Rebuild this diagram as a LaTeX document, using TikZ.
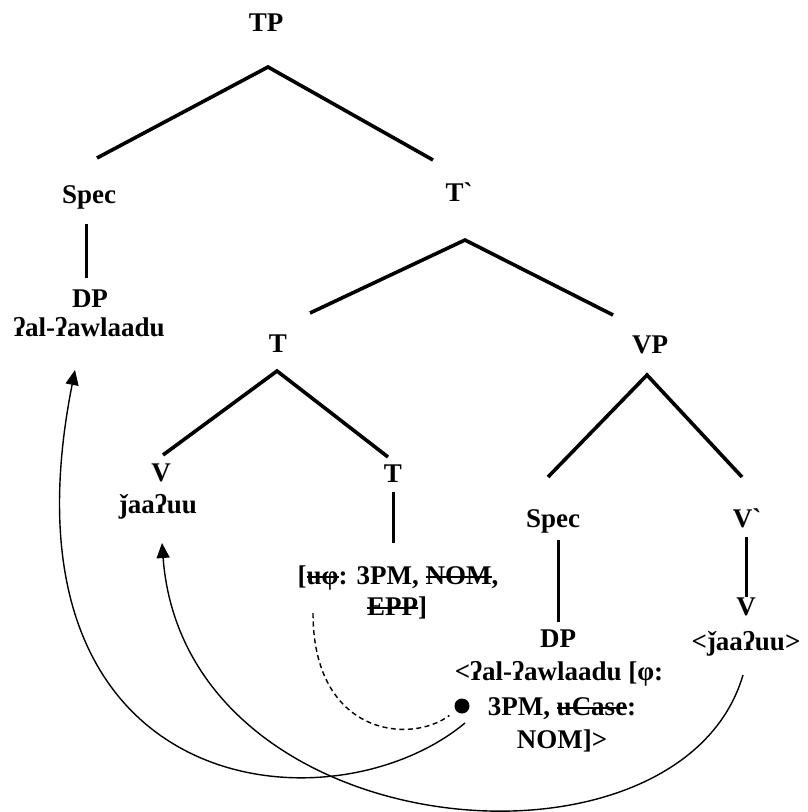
\documentclass[tikz,border=0pt]{standalone}
\usepackage{fontspec}
\setmainfont{Liberation Serif}
\usetikzlibrary{arrows.meta}

% struck-out (checked) feature
\newsavebox{\strikebox}
\newcommand{\struck}[1]{%
  \sbox{\strikebox}{#1}%
  \rlap{\raisebox{6.5pt}{\rule{\wd\strikebox}{1.1pt}}}\usebox{\strikebox}}

\begin{document}
\begin{tikzpicture}[
  x=1pt, y=-1pt,
  lbl/.style={inner sep=0pt, anchor=base,
              font=\bfseries\fontsize{27}{33}\selectfont},
  branch/.style={line width=3.6pt, line join=miter},
  unary/.style={line width=3pt},
  movearrow/.style={line width=1.4pt, -{Triangle[length=15pt,width=13pt]}},
  agree/.style={line width=1.4pt, dash pattern=on 5pt off 3.5pt},
]
\useasboundingbox (0,0) rectangle (807,812);

% ---- labels (positioned at their baselines) ----
\node[lbl] (TP)     at (266,31)  {TP};
\node[lbl] (specA)  at (89,203)  {Spec};
\node[lbl] (dpA)    at (90,307)  {DP};
\node[lbl] (dpAw)   at (89,336)  {ʔal-ʔawlaadu};
\node[lbl] (Tbar)   at (459,201) {T\textasciigrave};
\node[lbl] (T)      at (278,352) {T};
\node[lbl] (VP)     at (650,353) {VP};
\node[lbl] (vA)     at (161,481) {V};
\node[lbl] (vAw)    at (158,513) {ǰaaʔuu};
\node[lbl] (Tlow)   at (393,482) {T};
\node[lbl] (featA)  at (398,584) {[\struck{uφ}: 3PM, \struck{NOM},};
\node[lbl] (featB)  at (397,615) {\struck{EPP}]};
\node[lbl] (specB)  at (553,527) {Spec};
\node[lbl] (Vbar)   at (747,527) {V\textasciigrave};
\node[lbl] (dpB)    at (558,647) {DP};
\node[lbl] (dpBa)   at (559,680) {<ʔal-ʔawlaadu [φ:};
\node[lbl] (dpBb)   at (562,715) {3PM, \struck{uCase}:};
\node[lbl] (dpBc)   at (562,748) {NOM]>};
\node[lbl] (vB)     at (746,615) {V};
\node[lbl] (vBw)    at (746,650) {<ǰaaʔuu>};

% ---- branch points ----
\coordinate (tpA)  at (268,67);
\coordinate (tpL)  at (97,158);
\coordinate (tpR)  at (433,160);
\coordinate (tbA)  at (465,240);
\coordinate (tbL)  at (310,313);
\coordinate (tbR)  at (613,315);
\coordinate (tA)   at (277,371);
\coordinate (tL)   at (163,455);
\coordinate (tR)   at (388,457);
\coordinate (vpA)  at (647,375);
\coordinate (vpL)  at (548,477);
\coordinate (vpR)  at (742,477);

\draw[branch] (tpL) -- (tpA) -- (tpR);
\draw[branch] (tbL) -- (tbA) -- (tbR);
\draw[branch] (tL) -- (tA) -- (tR);
\draw[branch] (vpL) -- (vpA) -- (vpR);

% unary branches
\coordinate (specAd) at (86,224);  \coordinate (dpAu) at (86,278);
\coordinate (tlowD)  at (393,492); \coordinate (featU) at (393,543);
\coordinate (specBd) at (558,540); \coordinate (dpBu) at (558,622);
\coordinate (vbarD)  at (746,537); \coordinate (vBu)  at (746,597);
\draw[unary] (specAd) -- (dpAu);
\draw[unary] (tlowD) -- (featU);
\draw[unary] (specBd) -- (dpBu);
\draw[unary] (vbarD) -- (vBu);

% ---- agreement and movement ----
\node[circle, fill=black, inner sep=0pt, minimum size=15pt] (dot) at (462,706) {};

\coordinate (probe) at (313,613);
\draw[agree, shorten >=8pt] (probe) .. controls (313,735) and (410,745) .. (dot);

\coordinate (dpStart) at (465,723);
\coordinate (dpTip)   at (75,370);
\draw[movearrow] (dpStart) .. controls (330,835) and (-10,800) .. (dpTip);

\coordinate (vStart) at (743,675);
\coordinate (vTip)   at (162,543);
\draw[movearrow] (vStart) .. controls (680,890) and (185,850) .. (vTip);
\end{tikzpicture}
\end{document}
